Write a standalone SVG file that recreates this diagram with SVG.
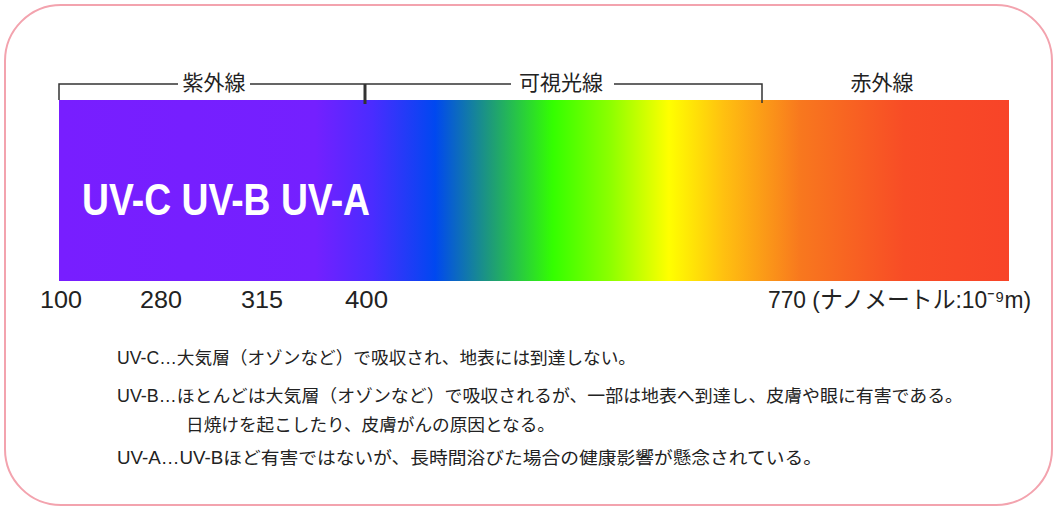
<svg xmlns="http://www.w3.org/2000/svg" width="1055" height="508" viewBox="0 0 1055 508">
  <defs>
    <linearGradient id="spec" x1="59" y1="0" x2="1009" y2="0" gradientUnits="userSpaceOnUse">
      <stop offset="0" stop-color="#781EFF"/>
      <stop offset="0.27" stop-color="#7420FF"/>
      <stop offset="0.33" stop-color="#4A2CFF"/>
      <stop offset="0.396" stop-color="#0048F0"/>
      <stop offset="0.455" stop-color="#1E9C78"/>
      <stop offset="0.52" stop-color="#34FF00"/>
      <stop offset="0.58" stop-color="#8CFF00"/>
      <stop offset="0.642" stop-color="#FFFF00"/>
      <stop offset="0.70" stop-color="#FFC010"/>
      <stop offset="0.78" stop-color="#F8781E"/>
      <stop offset="0.89" stop-color="#F84C26"/>
      <stop offset="1" stop-color="#F84428"/>
    </linearGradient>
    <style>
      .lbl{font-family:"Liberation Sans","Noto Sans CJK JP",sans-serif;font-size:21px;fill:#222}
      .num{font-family:"Liberation Sans","Noto Sans CJK JP",sans-serif;font-size:24px;fill:#222}
      .body{font-family:"Liberation Sans","Noto Sans CJK JP",sans-serif;font-size:17.5px;fill:#222}
      .uv{font-family:"Liberation Sans",sans-serif;font-weight:bold;font-size:44px;fill:#fff}
      .br{stroke:#333;stroke-width:1.5;fill:none}
    </style>
  </defs>
  <rect id="frame" x="5" y="5" width="1047" height="500" rx="56" ry="56" fill="#fff" stroke="#F3A3AE" stroke-width="2"/>
  <g id="spectrum">
    <rect x="59" y="100" width="950" height="181" fill="url(#spec)"/>
    <text class="uv" x="82" y="215" textLength="288" lengthAdjust="spacingAndGlyphs">UV-C UV-B UV-A</text>
  </g>
  <g id="connectors">
    <path class="br" d="M59,100 V84 H178 M250,84 H511 M614,84 H762 V103"/>
    <line x1="365" y1="84" x2="365" y2="104" stroke="#333" stroke-width="3"/>
  </g>
  <g id="label-uv"><text class="lbl" x="214" y="90" text-anchor="middle">紫外線</text></g>
  <g id="label-visible"><text class="lbl" x="561" y="90" text-anchor="middle">可視光線</text></g>
  <g id="label-ir"><text class="lbl" x="882" y="90" text-anchor="middle">赤外線</text></g>
  <g id="ticks">
    <text class="num" x="40" y="308" textLength="42" lengthAdjust="spacingAndGlyphs">100</text>
    <text class="num" x="140" y="308" textLength="42" lengthAdjust="spacingAndGlyphs">280</text>
    <text class="num" x="241" y="308" textLength="42" lengthAdjust="spacingAndGlyphs">315</text>
    <text class="num" x="345" y="308" textLength="43" lengthAdjust="spacingAndGlyphs">400</text>
    <text class="num" x="768" y="308" textLength="263" lengthAdjust="spacingAndGlyphs">770 (ナノメートル:10⁻⁹m)</text>
  </g>
  <g id="notes">
    <text class="body" x="117" y="364" textLength="519" lengthAdjust="spacingAndGlyphs">UV-C…大気層（オゾンなど）で吸収され、地表には到達しない。</text>
    <text class="body" x="117" y="402" textLength="846" lengthAdjust="spacingAndGlyphs">UV-B…ほとんどは大気層（オゾンなど）で吸収されるが、一部は地表へ到達し、皮膚や眼に有害である。</text>
    <text class="body" x="186" y="431" textLength="369" lengthAdjust="spacingAndGlyphs">日焼けを起こしたり、皮膚がんの原因となる。</text>
    <text class="body" x="117" y="464" textLength="705" lengthAdjust="spacingAndGlyphs">UV-A…UV-Bほど有害ではないが、長時間浴びた場合の健康影響が懸念されている。</text>
  </g>
</svg>
